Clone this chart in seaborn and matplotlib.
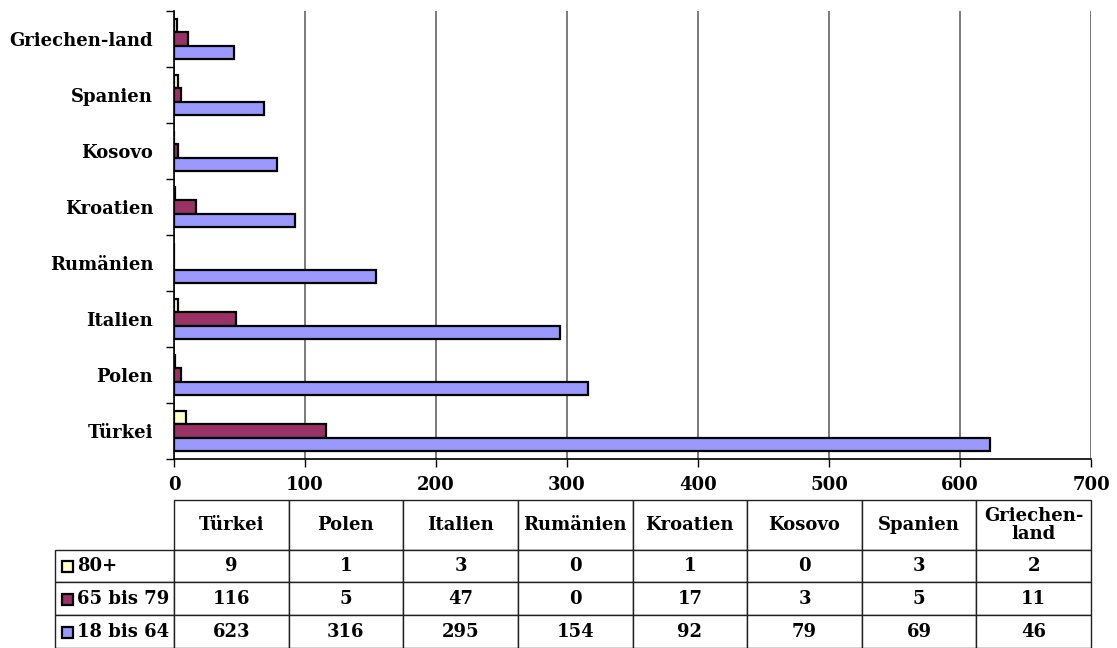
import numpy as np
import pandas as pd
import matplotlib
matplotlib.use("Agg")
import matplotlib.pyplot as plt
from matplotlib.patches import Rectangle
import seaborn as sns

# data
countries = ["Türkei", "Polen", "Italien", "Rumänien", "Kroatien", "Kosovo", "Spanien", "Griechen-land"]
col_labels = ["Türkei", "Polen", "Italien", "Rumänien", "Kroatien", "Kosovo", "Spanien", "Griechen-\nland"]
groups = ["80+", "65 bis 79", "18 bis 64"]
v_80 = [9, 1, 3, 0, 1, 0, 3, 2]
v_65 = [116, 5, 47, 0, 17, 3, 5, 11]
v_18 = [623, 316, 295, 154, 92, 79, 69, 46]
colors = ["#FFFFCC", "#993366", "#9999FF"]
xticks = [0, 100, 200, 300, 400, 500, 600, 700]

rows = []
for g, vals in zip(groups, [v_80, v_65, v_18]):
    for c, v in zip(countries, vals):
        rows.append({"Land": c, "Gruppe": g, "Anzahl": v})
df = pd.DataFrame(rows)

sns.set_style("ticks")
plt.rcParams["font.family"] = ["DejaVu Serif"]
plt.rcParams["font.weight"] = "bold"
plt.rcParams["text.color"] = "black"
plt.rcParams["xtick.color"] = "black"
plt.rcParams["ytick.color"] = "black"
plt.rcParams["xtick.labelcolor"] = "black"
plt.rcParams["ytick.labelcolor"] = "black"
FS = 13

W, H = 1117, 648
fig = plt.figure(figsize=(W / 100, H / 100), dpi=100)
ax_l, ax_r, ax_t, ax_b = 174, 1091, 11, 459
ax = fig.add_axes([ax_l / W, 1 - ax_b / H, (ax_r - ax_l) / W, (ax_b - ax_t) / H])

sns.barplot(data=df, x="Anzahl", y="Land", hue="Gruppe", orient="h",
            order=countries[::-1], hue_order=groups, palette=colors,
            width=0.7, edgecolor="black", linewidth=1.6, legend=False,
            saturation=1, ax=ax, zorder=3)

ax.set_xlim(0, 700)
ax.set_ylim(7.5, -0.5)
ax.set_xticks(xticks)
ax.set_xticklabels([str(t) for t in xticks], fontweight="bold", fontsize=FS, color="black")
ax.set_yticks(np.arange(len(countries)))
ax.set_yticklabels(countries[::-1], fontweight="bold", fontsize=FS, color="black")
ax.set_yticks(np.arange(-0.5, len(countries)), minor=True)
ax.tick_params(axis="y", which="major", length=0, pad=15)
ax.tick_params(axis="y", which="minor", length=6, width=1, color="black")
ax.tick_params(axis="x", length=6, width=1, color="black", pad=6)
ax.set_xlabel("")
ax.set_ylabel("")
ax.grid(axis="x", color="#707070", linewidth=1.3, zorder=0)
ax.set_axisbelow(True)
for s in ["top", "right"]:
    ax.spines[s].set_visible(False)
for s in ["left", "bottom"]:
    ax.spines[s].set_color("black")
    ax.spines[s].set_linewidth(1.2)

# data table below the chart (first column holds the series names)
cell_text = [[g] + [str(v) for v in vals] for g, vals in zip(groups, [v_80, v_65, v_18])]
tab_l, tab_t, tab_b = 55, 500, 648
axw, axh = ax_r - ax_l, ax_b - ax_t
col_w = axw / len(countries)
lab_w = ax_l - tab_l
tab = ax.table(cellText=cell_text, colLabels=[""] + col_labels,
               cellLoc="center",
               colWidths=[lab_w / axw] + [col_w / axw] * len(countries),
               bbox=[(tab_l - ax_l) / axw, (ax_b - tab_b) / axh,
                     (ax_r - tab_l) / axw, (tab_b - tab_t) / axh])
tab.auto_set_font_size(False)
tab.set_fontsize(FS)
for (r, c), cell in tab.get_celld().items():
    cell.set_edgecolor("#202020")
    cell.set_linewidth(1.0)
    cell.get_text().set_fontweight("bold")
    cell.get_text().set_color("black")
    if r == 0:
        cell.set_height(50)
        cell.get_text().set_linespacing(1.0)
    else:
        cell.set_height(33)
    if c == 0:
        if r == 0:
            cell.visible_edges = ""
        else:
            cell.get_text().set_horizontalalignment("left")
            cell.PAD = 22 / lab_w

# legend keys in the row label cells
for i, col in enumerate(colors):
    yc = tab_t + 50 + 33 * i + 16.5
    fig.patches.append(Rectangle((62 / W, 1 - (yc + 5.5) / H), 11 / W, 11 / H,
                                 transform=fig.transFigure, facecolor=col,
                                 edgecolor="black", linewidth=1.6))

fig.savefig("out.png", dpi=100)
